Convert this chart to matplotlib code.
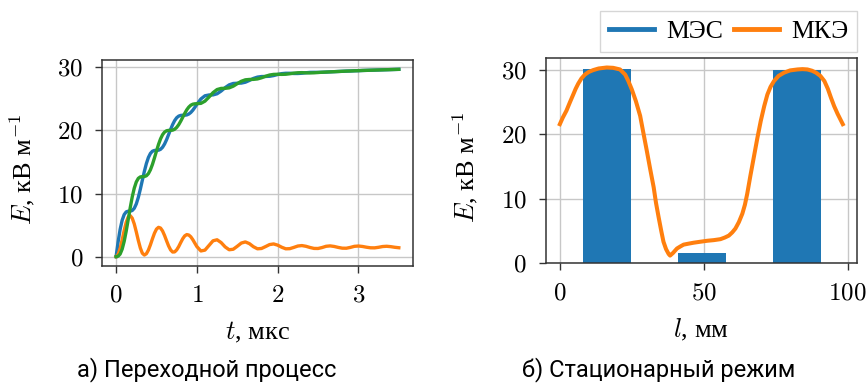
import matplotlib
matplotlib.use('Agg')
import matplotlib.pyplot as plt
from matplotlib.lines import Line2D

plt.rcParams['font.family'] = ['Liberation Serif', 'DejaVu Serif']
plt.rcParams['mathtext.fontset'] = 'cm'

# переходной процесс, t в мкс
t = [0.0, 0.025, 0.05, 0.075, 0.1, 0.125, 0.15, 0.175, 0.2, 0.225, 0.25, 0.275, 0.3, 0.325,
     0.35, 0.375, 0.4, 0.425, 0.45, 0.475, 0.5, 0.525, 0.55, 0.575, 0.6, 0.625, 0.65, 0.675,
     0.7, 0.725, 0.75, 0.775, 0.8, 0.825, 0.85, 0.875, 0.9, 0.925, 0.95, 0.975, 1.0,
     1.05, 1.1, 1.15, 1.2, 1.25, 1.3, 1.35, 1.4, 1.45, 1.5, 1.55, 1.6, 1.65, 1.7, 1.75, 1.8,
     1.85, 1.9, 1.95, 2.0, 2.05, 2.1, 2.15, 2.2, 2.25, 2.3, 2.35, 2.4, 2.45, 2.5, 2.55, 2.6,
     2.65, 2.7, 2.75, 2.8, 2.85, 2.9, 2.95, 3.0, 3.05, 3.1, 3.15, 3.2, 3.25, 3.3, 3.35, 3.4,
     3.45, 3.5]

E_blue = [0, 2.34, 4.31, 5.76, 6.66, 7.09, 7.20, 7.20, 7.31, 7.66, 8.35, 9.38, 10.68, 12.11,
          13.51, 14.75, 15.71, 16.35, 16.70, 16.82, 16.84, 16.86, 17.00, 17.32, 17.84, 18.53,
          19.34, 20.16, 20.92, 21.55, 22.00, 22.26, 22.37, 22.40, 22.40, 22.45, 22.59, 22.84,
          23.20, 23.65, 24.13,
          24.98, 25.48, 25.61, 25.62, 25.80, 26.23, 26.77, 27.21, 27.43, 27.47, 27.49, 27.63,
          27.91, 28.23, 28.44, 28.53, 28.54, 28.57, 28.68, 28.85,
          28.99, 29.05, 29.05, 29.01, 29.01, 29.05, 29.13, 29.19, 29.20, 29.19,
          29.21, 29.24, 29.27, 29.30, 29.33, 29.36, 29.39, 29.41, 29.44, 29.46, 29.49, 29.51,
          29.53, 29.55, 29.57, 29.59, 29.61, 29.63, 29.65, 29.67]

E_orange = [0, 0.34, 1.29, 2.65, 4.14, 5.44, 6.28, 6.49, 6.08, 5.17, 3.92, 2.57, 1.37, 0.54,
            0.25, 0.46, 1.04, 1.88, 2.83, 3.71, 4.36, 4.64, 4.53, 4.07, 3.35, 2.50, 1.69, 1.06,
            0.73, 0.75, 1.07, 1.59, 2.23, 2.84, 3.29, 3.49, 3.42, 3.14, 2.68, 2.13, 1.59,
            0.90, 1.03, 1.77, 2.51, 2.67, 2.23, 1.54, 1.09, 1.17, 1.64, 2.15, 2.33, 2.06, 1.57,
            1.24, 1.29, 1.59, 1.91, 2.01, 1.82,
            1.49, 1.24, 1.26, 1.46, 1.68, 1.75, 1.64, 1.45, 1.30, 1.29,
            1.44, 1.64, 1.70, 1.61, 1.46, 1.34, 1.33, 1.46, 1.63, 1.68, 1.61, 1.49, 1.40, 1.39,
            1.48, 1.60, 1.64, 1.58, 1.48, 1.41]

E_green = [0, 0.07, 0.41, 1.18, 2.41, 4.03, 5.88, 7.76, 9.47, 10.85, 11.83, 12.40, 12.63, 12.68,
           12.69, 12.81, 13.15, 13.76, 14.61, 15.64, 16.73, 17.77, 18.65, 19.31, 19.73, 19.94,
           20.00, 20.00, 20.04, 20.18, 20.47, 20.90, 21.46, 22.08, 22.70, 23.26, 23.69, 23.99,
           24.15, 24.21, 24.23,
           24.28, 24.63, 25.28, 25.98, 26.47, 26.65, 26.66, 26.74, 27.00, 27.40, 27.78, 28.01,
           28.07, 28.08, 28.15, 28.33, 28.57, 28.77, 28.87, 28.89,
           28.87, 28.89, 28.97, 29.07, 29.13, 29.15, 29.12, 29.10, 29.12, 29.17,
           29.21, 29.24, 29.27, 29.30, 29.33, 29.36, 29.39, 29.41, 29.44, 29.46, 29.49, 29.51,
           29.53, 29.55, 29.57, 29.59, 29.61, 29.63, 29.65, 29.67]

# стационарный режим, l в мм
l_mes = [16.4, 49.5, 82.3]
E_mes = [30.2, 1.6, 30.0]
l_mke = [0, 1.0, 2.3, 3.5, 4.65, 5.5, 6.4, 7.5, 8.7, 10.0, 11.6, 13.5, 16.3, 18.5, 20.9, 22.7,
         23.8, 25.0, 26.4, 27.9, 29.0, 30.2, 31.4, 32.6, 33.4, 34.3, 35.2, 36.0, 36.9, 37.8,
         38.3, 39.3, 40.7, 41.8, 43.0, 44.7, 46.5, 48.8, 51.2, 53.5, 55.8, 57.3, 58.7, 59.9,
         61.0, 62.2, 63.4, 64.3, 65.1, 66.2, 67.4, 68.6, 69.8, 71.0, 72.1, 73.2, 74.4, 76.0,
         77.9, 80.0, 82.6, 84.3, 86.0, 87.6, 89.0, 90.5, 91.9, 93.1, 94.2, 95.3, 96.5, 97.4,
         98.3]
E_mke = [21.6, 22.6, 23.7, 25.0, 26.2, 27.1, 27.9, 28.7, 29.3, 29.7, 30.0, 30.25, 30.4, 30.35,
         30.1, 29.3, 28.3, 27.0, 25.2, 22.9, 20.3, 17.5, 14.6, 11.8, 9.4, 7.2, 5.1, 3.35, 2.2,
         1.45, 1.2, 1.6, 2.3, 2.6, 2.9, 3.05, 3.2, 3.35, 3.5, 3.6, 3.75, 4.0, 4.3, 4.8,
         5.4, 6.4, 7.7, 9.1, 10.8, 13.6, 16.5, 19.4, 22.1, 24.4, 26.2, 27.4, 28.3, 29.1,
         29.6, 29.95, 30.1, 30.15, 30.1, 29.9, 29.6, 29.1, 28.3, 27.1, 25.7, 24.4, 23.2, 22.4,
         21.6]

fs_tick = 18
fs_lab = 19
fig = plt.figure(figsize=(8.67, 3.83), dpi=100)
ax1 = fig.add_axes([0.1176, 0.3055, 0.3587, 0.5379])
ax2 = fig.add_axes([0.6294, 0.3125, 0.359, 0.5368])

ax1.plot(t, E_blue, color='tab:blue', lw=2.4)
ax1.plot(t, E_orange, color='tab:orange', lw=2.4)
ax1.plot(t, E_green, color='tab:green', lw=2.4)
ax1.set_xticks([0, 1, 2, 3])
ax1.set_xticklabels(['$0$', '$1$', '$2$', '$3$'])
ax1.set_yticks([0, 10, 20, 30])
ax1.set_yticklabels(['$0$', '$10$', '$20$', '$30$'])
ax1.set_xlabel(r'$t$, мкс', fontsize=fs_lab)
ax1.set_ylabel(r'$E$, кВ м$^{-1}$', fontsize=fs_lab)

ax2.bar(l_mes, E_mes, width=16.6, color='tab:blue', zorder=2)
ax2.plot(l_mke, E_mke, color='tab:orange', lw=2.9, zorder=3)
ax2.set_xticks([0, 50, 100])
ax2.set_xticklabels(['$0$', '$50$', '$100$'])
ax2.set_yticks([0, 10, 20, 30])
ax2.set_yticklabels(['$0$', '$10$', '$20$', '$30$'])
ax2.set_xlabel(r'$l$, мм', fontsize=fs_lab)
ax2.set_ylabel(r'$E$, кВ м$^{-1}$', fontsize=fs_lab)

for ax in (ax1, ax2):
    ax.grid(True, color='0.78', lw=1.0)
    ax.set_axisbelow(True)
    ax.tick_params(labelsize=fs_tick, length=5, width=1, color='0.2', pad=8.5)
    for s in ax.spines.values():
        s.set_color('0.2')
        s.set_linewidth(1.1)
    ax.yaxis.set_label_coords(-0.21, 0.47)
    ax.xaxis.set_label_coords(0.5, -0.26)

handles = [Line2D([], [], color='tab:blue', lw=3.5),
           Line2D([], [], color='tab:orange', lw=3.5)]
fig.legend(handles, ['МЭС', 'МКЭ'], ncol=2, fontsize=18.5, loc='upper right',
           bbox_to_anchor=(0.9885, 0.972), fancybox=False, handlelength=1.75,
           columnspacing=0.45, handletextpad=0.45, borderpad=0.35, borderaxespad=0)

fig.text(207 / 867, 0.035, 'а) Переходной процесс', fontsize=17, family='Roboto',
         ha='center', va='center')
fig.text(659 / 867, 0.035, 'б) Стационарный режим', fontsize=17, family='Roboto',
         ha='center', va='center')

fig.savefig('out.png', dpi=100)
